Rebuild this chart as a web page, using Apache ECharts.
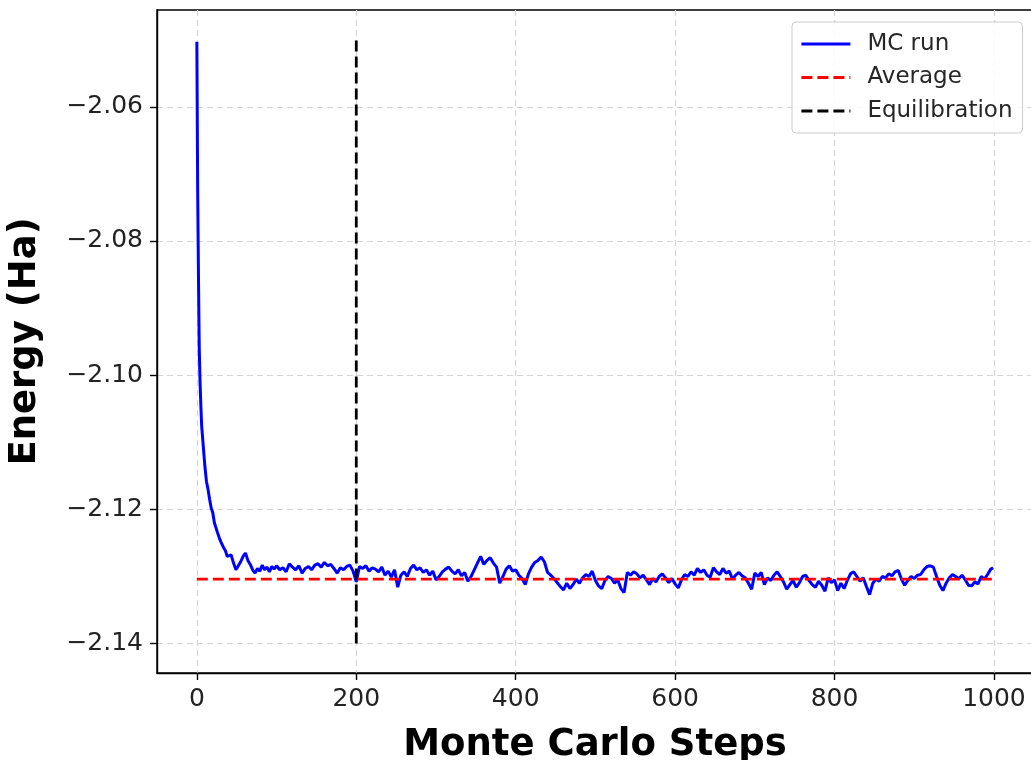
<!DOCTYPE html>
<html lang="en">
<head>
    <meta charset="UTF-8">
    <title>MC energy</title>
    <style type="text/css">
        html, body { margin: 0; padding: 0; background: #fff; }
        #chart { width: 1031px; height: 760px; }
    </style>
</head>
<body>
    <div id="chart"></div>
    <script src="https://cdn.jsdelivr.net/npm/echarts@6/dist/echarts.min.js"></script>
    <script type="text/javascript">
        // Monte Carlo steps and energies
        var steps = [0, 1, 2, 3, 4, 5, 6, 8, 10, 12, 14, 16, 18, 20, 22, 24, 26, 28, 30, 32, 34, 36, 38, 40,
            43, 46, 49, 52, 55, 58, 61, 64, 67, 70, 73, 76, 79, 82, 85, 88, 91, 94, 97, 100,
            104, 108, 112, 116, 120, 124, 128, 132, 136, 140, 144, 148, 152, 156, 160, 164, 168, 172, 176, 180,
            184, 188, 192, 196, 200, 204, 208, 212, 216, 220, 224, 228, 232, 236, 240, 244, 248, 252, 256, 260,
            264, 268, 272, 276, 280, 284, 288, 292, 296, 300, 304, 308, 312, 316, 320, 324, 328, 332, 336, 340,
            344, 348, 352, 356, 360, 364, 368, 372, 376, 380, 384, 388, 392, 396, 400, 404, 408, 412, 416, 420,
            424, 428, 432, 436, 440, 444, 448, 452, 456, 460, 464, 468, 472, 476, 480, 484, 488, 492, 496, 500,
            504, 508, 512, 516, 520, 524, 528, 532, 536, 540, 544, 548, 552, 556, 560, 564, 568, 572, 576, 580,
            584, 588, 592, 596, 600, 604, 608, 612, 616, 620, 624, 628, 632, 636, 640, 644, 648, 652, 656, 660,
            664, 668, 672, 676, 680, 684, 688, 692, 696, 700, 704, 708, 712, 716, 720, 724, 728, 732, 736, 740,
            744, 748, 752, 756, 760, 764, 768, 772, 776, 780, 784, 788, 792, 796, 800, 804, 808, 812, 816, 820,
            824, 828, 832, 836, 840, 844, 848, 852, 856, 860, 864, 868, 872, 876, 880, 884, 888, 892, 896, 900,
            904, 908, 912, 916, 920, 924, 928, 932, 936, 940, 944, 948, 952, 956, 960, 964, 968, 972, 976, 980,
            984, 988, 992, 996, 999];
        var energy = [-2.0503, -2.0720, -2.0850, -2.0960, -2.1010, -2.1045, -2.1075, -2.1105, -2.1135, -2.1158,
            -2.1170, -2.1185, -2.1198, -2.1205, -2.1220, -2.1222, -2.1235, -2.1242, -2.1248, -2.1250, -2.1258,
            -2.1262, -2.1270, -2.1272,
            -2.1268, -2.1280, -2.1290, -2.1284, -2.1278, -2.1270, -2.1265, -2.1276, -2.1282, -2.1290, -2.1295,
            -2.1288, -2.1292, -2.1283, -2.1290, -2.1286, -2.1293, -2.1285, -2.1289, -2.1284,
            -2.1290, -2.1287, -2.1293, -2.1281, -2.1286, -2.1290, -2.1284, -2.1295, -2.1288, -2.1285,
            -2.1290, -2.1283, -2.1281, -2.1286, -2.1279, -2.1284, -2.1282, -2.1288, -2.1295, -2.1287,
            -2.1290, -2.1285, -2.1283, -2.1292, -2.1308, -2.1285, -2.1288, -2.1284, -2.1292, -2.1287,
            -2.1289, -2.1293, -2.1286, -2.1298, -2.1292, -2.1301, -2.1290, -2.1316, -2.1298, -2.1293,
            -2.1300, -2.1288, -2.1283, -2.1290, -2.1287, -2.1294, -2.1290, -2.1298, -2.1292, -2.1305,
            -2.1300, -2.1293, -2.1289, -2.1286, -2.1292, -2.1296, -2.1290, -2.1299, -2.1294, -2.1307,
            -2.1300, -2.1290, -2.1280, -2.1270, -2.1282, -2.1276, -2.1272, -2.1280, -2.1286, -2.1310,
            -2.1300, -2.1289, -2.1284, -2.1292, -2.1290, -2.1298, -2.1303, -2.1312, -2.1296, -2.1286,
            -2.1279, -2.1276, -2.1271, -2.1278, -2.1294, -2.1298, -2.1303, -2.1309, -2.1315, -2.1320,
            -2.1310, -2.1318, -2.1312, -2.1304, -2.1310, -2.1302, -2.1297, -2.1300, -2.1292, -2.1306,
            -2.1314, -2.1318, -2.1306, -2.1300, -2.1303, -2.1310, -2.1305, -2.1318, -2.1324, -2.1294,
            -2.1298, -2.1293, -2.1296, -2.1302, -2.1298, -2.1305, -2.1312, -2.1303, -2.1308, -2.1300,
            -2.1296, -2.1302, -2.1309, -2.1303, -2.1311, -2.1317, -2.1305, -2.1297, -2.1300, -2.1293,
            -2.1298, -2.1288, -2.1294, -2.1290, -2.1298, -2.1301, -2.1287, -2.1293, -2.1297, -2.1288,
            -2.1295, -2.1292, -2.1304, -2.1298, -2.1294, -2.1299, -2.1302, -2.1310, -2.1319, -2.1295,
            -2.1300, -2.1294, -2.1312, -2.1302, -2.1306, -2.1298, -2.1293, -2.1300, -2.1308, -2.1319,
            -2.1312, -2.1306, -2.1316, -2.1309, -2.1300, -2.1298, -2.1306, -2.1312, -2.1316, -2.1307,
            -2.1313, -2.1322, -2.1302, -2.1309, -2.1305, -2.1321, -2.1310, -2.1318, -2.1306, -2.1296,
            -2.1293, -2.1300, -2.1307, -2.1302, -2.1315, -2.1327, -2.1310, -2.1304, -2.1307, -2.1300,
            -2.1302, -2.1296, -2.1299, -2.1293, -2.1291, -2.1304, -2.1313, -2.1306, -2.1300, -2.1303,
            -2.1298, -2.1297, -2.1290, -2.1285, -2.1284, -2.1286, -2.1300, -2.1313, -2.1321, -2.1310,
            -2.1302, -2.1297, -2.1300, -2.1303, -2.1298, -2.1305, -2.1313, -2.1314, -2.1308, -2.1311,
            -2.1300, -2.1304, -2.1297, -2.1289, -2.1287];
        var averageEnergy = -2.1304;
        var equilibrationStep = 200;
        var equilibrationRange = [-2.14, -2.05];
        var xTicks = [0, 200, 400, 600, 800, 1000];
        var yTicks = [-2.14, -2.12, -2.10, -2.08, -2.06];

        var runData = [];
        for (var i = 0; i < steps.length; i++) {
            runData.push([steps[i], energy[i]]);
        }
        var avgData = [[steps[0], averageEnergy], [steps[steps.length - 1], averageEnergy]];
        var eqData = [[equilibrationStep, equilibrationRange[0]], [equilibrationStep, equilibrationRange[1]]];

        var font = 'DejaVu Sans';
        var gridLine = { show: true, lineStyle: { color: '#d4d4d4', width: 1.2, type: [6, 4] } };

        var chart = echarts.init(document.getElementById('chart'));
        var option = {
            animation: false,
            backgroundColor: '#fff',
            grid: {
                left: 157, right: -2, top: 10, bottom: 87,
                show: true, borderColor: '#000', borderWidth: 1.4,
                outerBoundsMode: 'none'
            },
            legend: {
                orient: 'vertical',
                left: 792, top: 22,
                padding: [9, 10, 9, 8],
                itemGap: 7.5,
                itemWidth: 49,
                itemHeight: 14,
                itemStyle: { opacity: 0 },
                lineStyle: { width: 2.8 },
                backgroundColor: 'rgba(255,255,255,0.85)',
                borderColor: '#cccccc',
                borderWidth: 1,
                borderRadius: 4,
                textStyle: { fontFamily: font, fontSize: 23, color: '#262626', lineHeight: 26, padding: [0, 0, 0, 12] },
                data: ['MC run', 'Average', 'Equilibration']
            },
            xAxis: {
                type: 'value',
                min: -50, max: 1049,
                name: 'Monte Carlo Steps',
                nameLocation: 'middle',
                nameGap: 54,
                nameTextStyle: { fontFamily: font, fontSize: 37, fontWeight: 'bold', color: '#000' },
                axisLine: { show: true, onZero: false, lineStyle: { color: '#000', width: 1.4 } },
                axisTick: { show: true, length: 7, customValues: xTicks, lineStyle: { color: '#000', width: 1.4 } },
                axisLabel: {
                    customValues: xTicks, margin: 14, fontFamily: font, fontSize: 25, color: '#222',
                    formatter: function (v) { return String(v); }
                },
                splitLine: gridLine
            },
            yAxis: {
                type: 'value',
                min: -2.14438, max: -2.04558,
                name: 'Energy (Ha)',
                nameLocation: 'middle',
                nameGap: 113,
                nameTextStyle: { fontFamily: font, fontSize: 37, fontWeight: 'bold', color: '#000' },
                axisLine: { show: true, onZero: false, lineStyle: { color: '#000', width: 1.4 } },
                axisTick: { show: true, length: 7, customValues: yTicks, lineStyle: { color: '#000', width: 1.4 } },
                axisLabel: {
                    customValues: yTicks, margin: 14, fontFamily: font, fontSize: 25, color: '#222',
                    formatter: function (v) { return '\u2212' + Math.abs(v).toFixed(2); }
                },
                splitLine: gridLine
            },
            series: [
                {
                    name: 'MC run', type: 'line', data: runData, showSymbol: false, symbol: 'none',
                    lineStyle: { color: '#0000ff', width: 3 }, itemStyle: { color: '#0000ff' }, z: 2
                },
                {
                    name: 'Average', type: 'line', data: avgData, showSymbol: false, symbol: 'none',
                    lineStyle: { color: '#ff0000', width: 2.8, type: [11, 5] }, itemStyle: { color: '#ff0000' }, z: 3
                },
                {
                    name: 'Equilibration', type: 'line', data: eqData, showSymbol: false, symbol: 'none',
                    lineStyle: { color: '#000000', width: 2.8, type: [11, 5] }, itemStyle: { color: '#000000' }, z: 4
                }
            ]
        };
        chart.setOption(option);
    </script>
</body>
</html>
